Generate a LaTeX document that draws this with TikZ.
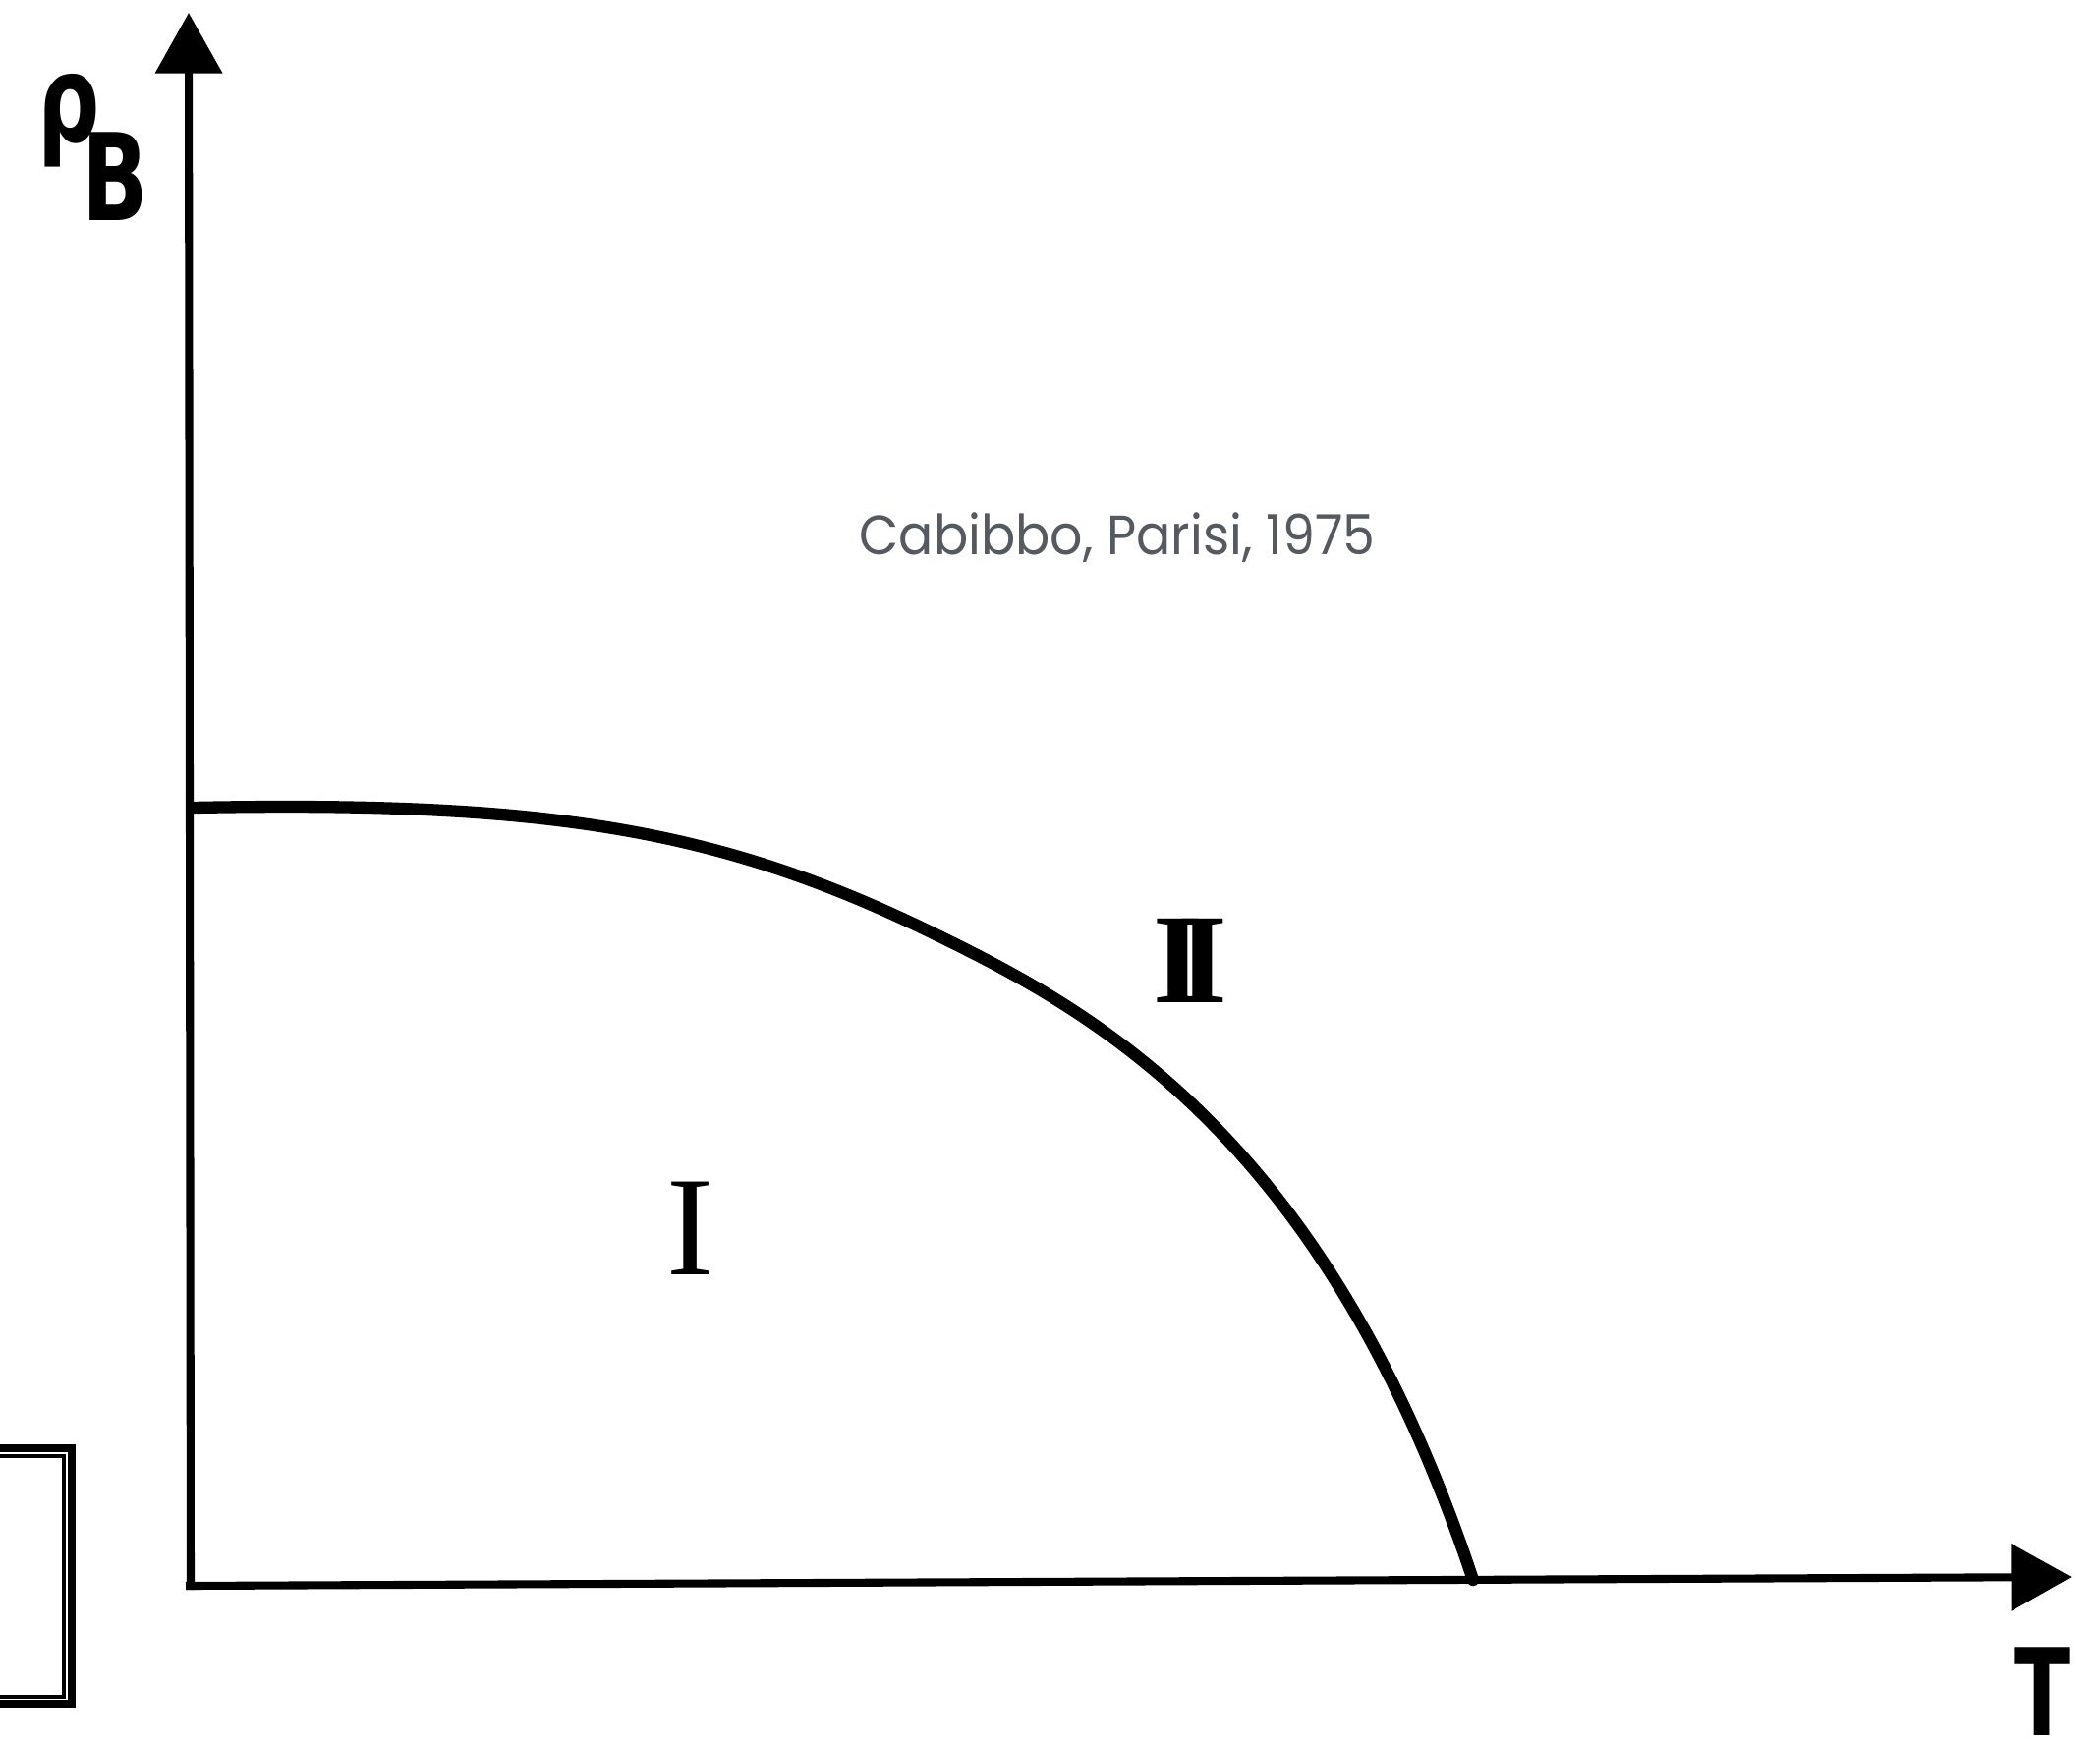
\documentclass[tikz,border=0pt]{standalone}
\usepackage{fontspec}
\usetikzlibrary{arrows.meta}
\newfontfamily\labsans{DejaVu Sans}
\newfontfamily\labserif{Liberation Serif}
\newfontfamily\notefont{Poppins}
\definecolor{notegray}{HTML}{555A61}
\begin{document}
\begin{tikzpicture}[x=0.01cm,y=-0.01cm,
  axisline/.style={line width=2.3pt, -{Triangle[length=17.5pt,width=19pt]}},
  phase/.style={line width=3.5pt, line cap=round, line join=round},
  axlab/.style={inner sep=0pt, font=\labsans\bfseries\fontsize{35}{35}\selectfont},
  roman/.style={inner sep=0pt, font=\labserif\fontsize{41}{41}\selectfont},
  romanb/.style={inner sep=0pt, font=\labserif\bfseries\fontsize{37}{37}\selectfont},
  note/.style={inner sep=0pt, text=notegray, font=\notefont\fontsize{16}{16}\selectfont},
  framebox/.style={line width=2.2pt}
]
\useasboundingbox (0,0) rectangle (2137,1772);
% axes
\coordinate (O) at (194,1618);
\coordinate (Ox) at (189,1614);
\coordinate (ytip) at (192,13);
\coordinate (xtip) at (2108,1605);
\draw[axisline] (O) -- (ytip);
\draw[axisline] (Ox) -- (xtip);
% phase boundary
\coordinate (c0) at (196,822);
\coordinate (c1) at (954,952);
\coordinate (c2) at (1499,1608);
\draw[phase] (c0) .. controls (560,815) and (734,844) .. (c1)
             .. controls (1114,1030) and (1349,1158) .. (c2);
% labels
\node[axlab] (rho) at (70,123) {\scalebox{0.72}[1]{ρ}};
\node[axlab] (B) at (117,180) {\scalebox{0.72}[1]{B}};
\node[axlab] (T) at (2078,1722) {\scalebox{0.68}[1]{T}};
\node[roman] (one) at (702,1250) {I};
\node[romanb] (two) at (1211,978) {I\kern-0.2em I};
\node[note, anchor=base] (cite) at (1137,564) {\scalebox{0.927}[1]{Cabibbo, Parisi, 1975}};
% partial frame at lower left
\draw[framebox] (-30,1474) rectangle (73,1734);
\draw[line width=0.9pt] (-30,1482) rectangle (65,1727);
\end{tikzpicture}
\end{document}
